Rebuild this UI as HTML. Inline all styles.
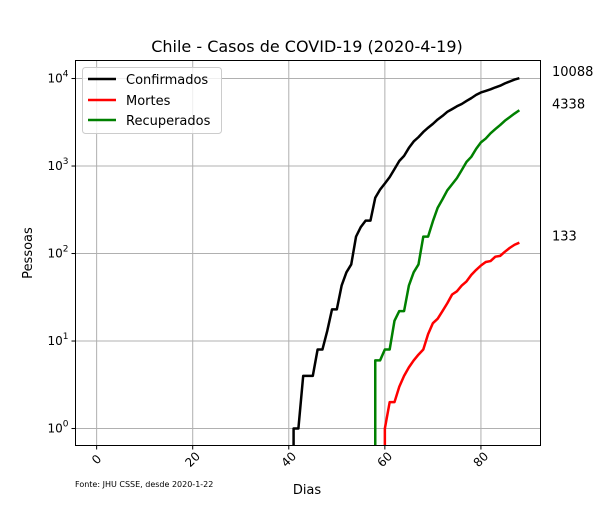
<!DOCTYPE html>
<html><head><meta charset="utf-8"><style>
body{margin:0;background:#fff;}
svg text{font-family:"DejaVu Sans","Liberation Sans",sans-serif;}
</style></head><body>
<svg id="chart" width="600" height="500" xmlns="http://www.w3.org/2000/svg">
<rect width="600" height="500" fill="#fff"/>
<text x="307" y="52" font-size="16" text-anchor="middle">Chile - Casos de COVID-19 (2020-4-19)</text>
<g id="grid"></g>
<g id="series"></g>
<rect x="75.5" y="60.5" width="465" height="385" fill="none" stroke="#000" stroke-width="1"/>
<g id="axes"></g>
<text x="307" y="494" font-size="13" text-anchor="middle">Dias</text>
<text x="32" y="253" font-size="13" text-anchor="middle" transform="rotate(-90 32 253)">Pessoas</text>
<text x="75" y="487" font-size="8">Fonte: JHU CSSE, desde 2020-1-22</text>
<g>
<rect x="82.5" y="67.5" width="139" height="66" rx="3" fill="#fff" fill-opacity="0.8" stroke="#ccc"/>
<line x1="88" y1="79" x2="116" y2="79" stroke="#000" stroke-width="2.5"/>
<text x="126" y="84" font-size="13">Confirmados</text>
<line x1="88" y1="100" x2="116" y2="100" stroke="#f00" stroke-width="2.5"/>
<text x="126" y="105" font-size="13">Mortes</text>
<line x1="88" y1="120" x2="116" y2="120" stroke="#008000" stroke-width="2.5"/>
<text x="126" y="125" font-size="13">Recuperados</text>
</g>
<g id="endlabels"></g>
</svg>
<script>
const confirmedStart = 41;
const confirmed = [1,1,4,4,4,8,8,13,23,23,43,61,75,156,201,238,238,434,537,632,746,922,1142,1306,1610,1909,2139,2449,2738,3031,3404,3737,4161,4471,4815,5116,5546,5972,6501,6927,7213,7525,7917,8273,8807,9252,9730,10088];
const deathsStart = 60;
const deaths = [1,2,2,3,4,5,6,7,8,12,16,18,22,27,34,37,43,48,57,65,73,80,82,92,94,105,116,126,133];
const recoveredStart = 58;
const recovered = [6,6,8,8,17,22,22,43,61,75,156,156,234,334,417,528,619,728,898,1115,1274,1571,1864,2059,2367,2646,2937,3299,3621,3979,4338];
const xTicks = [0,20,40,60,80];
const yTicks = [0,1,2,3,4];

const NS = "http://www.w3.org/2000/svg";
const X0=75.5, X1=540.5, Y0=60.5, Y1=445.5;
const xMin=-4.4, xMax=92.4, yMin=-0.194, yMax=4.206;
const xs = d => X0 + (d-xMin)/(xMax-xMin)*(X1-X0);
const ys = v => Y1 - (Math.log10(v)-yMin)/(yMax-yMin)*(Y1-Y0);
const ysl = l => Y1 - (l-yMin)/(yMax-yMin)*(Y1-Y0);
function mk(tag, attrs, parent){const e=document.createElementNS(NS,tag);for(const k in attrs)e.setAttribute(k,attrs[k]);parent.appendChild(e);return e;}
const grid=document.getElementById('grid'), axes=document.getElementById('axes');
xTicks.forEach(t=>{
  const x=xs(t);
  const g=mk('line',{x1:x,x2:x,y1:Y0,y2:Y1,stroke:'#b0b0b0','stroke-width':1},grid);
  
  
  mk('line',{x1:x,x2:x,y1:Y1,y2:Y1+4,stroke:'#000'},axes);
  const tx=mk('text',{x:x,y:Y1+18,'font-size':12,'text-anchor':'middle',transform:`rotate(-45 ${x} ${Y1+14})`},axes);
  tx.textContent=t;
  
  
});
yTicks.forEach(t=>{
  const y=ysl(t);
  const g=mk('line',{x1:X0,x2:X1,y1:y,y2:y,stroke:'#b0b0b0','stroke-width':1},grid);
  
  
  mk('line',{x1:X0-4,x2:X0,y1:y,y2:y,stroke:'#000'},axes);
  const tx=mk('text',{x:X0-7,y:y+4,'font-size':12,'text-anchor':'end'},axes);
  tx.innerHTML='10<tspan dy="-6" font-size="9">'+t+'</tspan>';
  
  
});
const ser=document.getElementById('series'), el=document.getElementById('endlabels');
function draw(start, vals, color, name){
  let pts=[[xs(start),Y1]];
  vals.forEach((v,i)=>pts.push([xs(start+i),ys(v)]));
  const p=mk('polyline',{points:pts.map(p=>p.join(',')).join(' '),fill:'none',stroke:color,'stroke-width':2.5,'stroke-linejoin':'round'},ser);
  
  
  const last=vals[vals.length-1];
  const t=mk('text',{x:552,y:ys(last)-2,'font-size':13},el);
  t.textContent=last;
  
  
}
draw(confirmedStart,confirmed,'#000','confirmados');
draw(deathsStart,deaths,'#f00','mortes');
draw(recoveredStart,recovered,'#008000','recuperados');
</script>
</body></html>
